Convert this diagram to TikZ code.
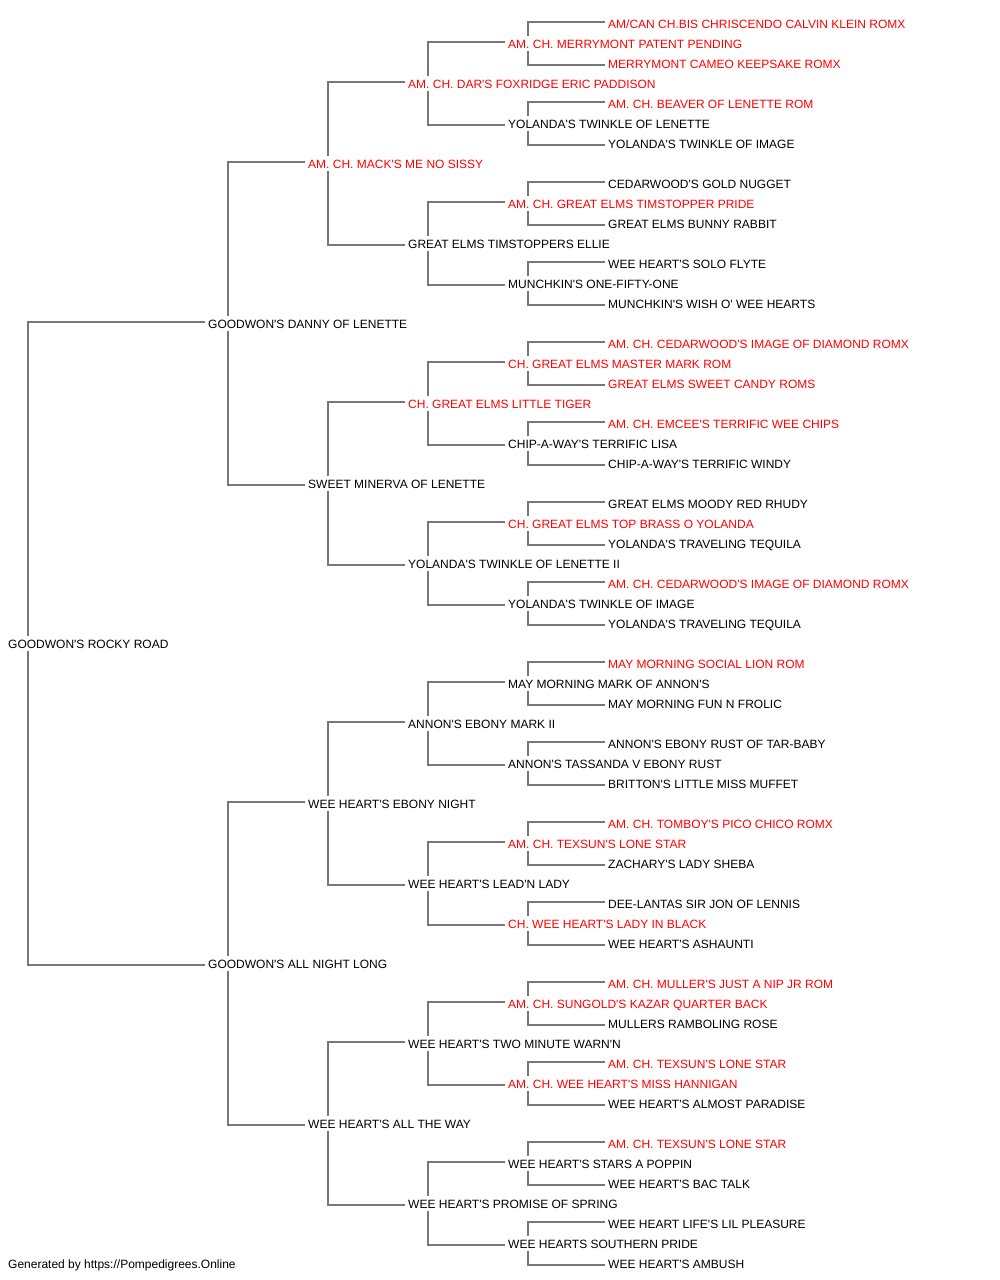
\documentclass[tikz,border=0pt]{standalone}
\usepackage{fontspec}
\setmainfont{Liberation Sans}[Ligatures=TeXOff]
\usetikzlibrary{calc}
\definecolor{linegray}{RGB}{120,120,120}
\definecolor{pred}{RGB}{255,0,0}
\tikzset{
  pn/.style={anchor=west,inner xsep=3pt,inner ysep=0pt,font=\fontsize{12}{14}\selectfont,text height=10.6pt,text depth=0pt},
  conn/.style={draw=linegray,line width=1.3pt}
}
\newcommand\pnode[5]{\node[pn,text=#4] (#1) at (#2,#3) {#5};}
\newcommand\pconn[3]{%
  \draw[conn] ($(#2.west)+(0,-1)$) -| ($(#1.west)+(23,-7)$);
  \draw[conn] ($(#3.west)+(0,2)$) -| ($(#1.west)+(23,8)$);}
\begin{document}
\begin{tikzpicture}[x=1pt,y=-1pt]
\fill[white] (0,0) rectangle (1000,1280);
\useasboundingbox (0,0) rectangle (1000,1280);
% root
\pnode{r}{5}{643}{black}{GOODWON'S ROCKY ROAD}
% level 1
\pnode{a0}{205}{323}{black}{GOODWON'S DANNY OF LENETTE}
\pnode{a1}{205}{963}{black}{GOODWON'S ALL NIGHT LONG}
% level 2
\pnode{b0}{305}{163}{pred}{AM. CH. MACK'S ME NO SISSY}
\pnode{b1}{305}{483}{black}{SWEET MINERVA OF LENETTE}
\pnode{b2}{305}{803}{black}{WEE HEART'S EBONY NIGHT}
\pnode{b3}{305}{1123}{black}{WEE HEART'S ALL THE WAY}
% level 3
\pnode{c0}{405}{83}{pred}{AM. CH. DAR'S FOXRIDGE ERIC PADDISON}
\pnode{c1}{405}{243}{black}{GREAT ELMS TIMSTOPPERS ELLIE}
\pnode{c2}{405}{403}{pred}{CH. GREAT ELMS LITTLE TIGER}
\pnode{c3}{405}{563}{black}{YOLANDA'S TWINKLE OF LENETTE II}
\pnode{c4}{405}{723}{black}{ANNON'S EBONY MARK II}
\pnode{c5}{405}{883}{black}{WEE HEART'S LEAD'N LADY}
\pnode{c6}{405}{1043}{black}{WEE HEART'S TWO MINUTE WARN'N}
\pnode{c7}{405}{1203}{black}{WEE HEART'S PROMISE OF SPRING}
% level 4
\pnode{d0}{505}{43}{pred}{AM. CH. MERRYMONT PATENT PENDING}
\pnode{d1}{505}{123}{black}{YOLANDA'S TWINKLE OF LENETTE}
\pnode{d2}{505}{203}{pred}{AM. CH. GREAT ELMS TIMSTOPPER PRIDE}
\pnode{d3}{505}{283}{black}{MUNCHKIN'S ONE-FIFTY-ONE}
\pnode{d4}{505}{363}{pred}{CH. GREAT ELMS MASTER MARK ROM}
\pnode{d5}{505}{443}{black}{CHIP-A-WAY'S TERRIFIC LISA}
\pnode{d6}{505}{523}{pred}{CH. GREAT ELMS TOP BRASS O YOLANDA}
\pnode{d7}{505}{603}{black}{YOLANDA'S TWINKLE OF IMAGE}
\pnode{d8}{505}{683}{black}{MAY MORNING MARK OF ANNON'S}
\pnode{d9}{505}{763}{black}{ANNON'S TASSANDA V EBONY RUST}
\pnode{d10}{505}{843}{pred}{AM. CH. TEXSUN'S LONE STAR}
\pnode{d11}{505}{923}{pred}{CH. WEE HEART'S LADY IN BLACK}
\pnode{d12}{505}{1003}{pred}{AM. CH. SUNGOLD'S KAZAR QUARTER BACK}
\pnode{d13}{505}{1083}{pred}{AM. CH. WEE HEART'S MISS HANNIGAN}
\pnode{d14}{505}{1163}{black}{WEE HEART'S STARS A POPPIN}
\pnode{d15}{505}{1243}{black}{WEE HEARTS SOUTHERN PRIDE}
% level 5
\pnode{e0}{605}{23}{pred}{AM/CAN CH.BIS CHRISCENDO CALVIN KLEIN ROMX}
\pnode{e1}{605}{63}{pred}{MERRYMONT CAMEO KEEPSAKE ROMX}
\pnode{e2}{605}{103}{pred}{AM. CH. BEAVER OF LENETTE ROM}
\pnode{e3}{605}{143}{black}{YOLANDA'S TWINKLE OF IMAGE}
\pnode{e4}{605}{183}{black}{CEDARWOOD'S GOLD NUGGET}
\pnode{e5}{605}{223}{black}{GREAT ELMS BUNNY RABBIT}
\pnode{e6}{605}{263}{black}{WEE HEART'S SOLO FLYTE}
\pnode{e7}{605}{303}{black}{MUNCHKIN'S WISH O' WEE HEARTS}
\pnode{e8}{605}{343}{pred}{AM. CH. CEDARWOOD'S IMAGE OF DIAMOND ROMX}
\pnode{e9}{605}{383}{pred}{GREAT ELMS SWEET CANDY ROMS}
\pnode{e10}{605}{423}{pred}{AM. CH. EMCEE'S TERRIFIC WEE CHIPS}
\pnode{e11}{605}{463}{black}{CHIP-A-WAY'S TERRIFIC WINDY}
\pnode{e12}{605}{503}{black}{GREAT ELMS MOODY RED RHUDY}
\pnode{e13}{605}{543}{black}{YOLANDA'S TRAVELING TEQUILA}
\pnode{e14}{605}{583}{pred}{AM. CH. CEDARWOOD'S IMAGE OF DIAMOND ROMX}
\pnode{e15}{605}{623}{black}{YOLANDA'S TRAVELING TEQUILA}
\pnode{e16}{605}{663}{pred}{MAY MORNING SOCIAL LION ROM}
\pnode{e17}{605}{703}{black}{MAY MORNING FUN N FROLIC}
\pnode{e18}{605}{743}{black}{ANNON'S EBONY RUST OF TAR-BABY}
\pnode{e19}{605}{783}{black}{BRITTON'S LITTLE MISS MUFFET}
\pnode{e20}{605}{823}{pred}{AM. CH. TOMBOY'S PICO CHICO ROMX}
\pnode{e21}{605}{863}{black}{ZACHARY'S LADY SHEBA}
\pnode{e22}{605}{903}{black}{DEE-LANTAS SIR JON OF LENNIS}
\pnode{e23}{605}{943}{black}{WEE HEART'S ASHAUNTI}
\pnode{e24}{605}{983}{pred}{AM. CH. MULLER'S JUST A NIP JR ROM}
\pnode{e25}{605}{1023}{black}{MULLERS RAMBOLING ROSE}
\pnode{e26}{605}{1063}{pred}{AM. CH. TEXSUN'S LONE STAR}
\pnode{e27}{605}{1103}{black}{WEE HEART'S ALMOST PARADISE}
\pnode{e28}{605}{1143}{pred}{AM. CH. TEXSUN'S LONE STAR}
\pnode{e29}{605}{1183}{black}{WEE HEART'S BAC TALK}
\pnode{e30}{605}{1223}{black}{WEE HEART LIFE'S LIL PLEASURE}
\pnode{e31}{605}{1263}{black}{WEE HEART'S AMBUSH}
% footer
\pnode{foot}{5}{1263}{black}{Generated by https://Pompedigrees.Online}
% connectors
\pconn{r}{a0}{a1}
\pconn{a0}{b0}{b1}
\pconn{a1}{b2}{b3}
\pconn{b0}{c0}{c1}
\pconn{b1}{c2}{c3}
\pconn{b2}{c4}{c5}
\pconn{b3}{c6}{c7}
\pconn{c0}{d0}{d1}
\pconn{c1}{d2}{d3}
\pconn{c2}{d4}{d5}
\pconn{c3}{d6}{d7}
\pconn{c4}{d8}{d9}
\pconn{c5}{d10}{d11}
\pconn{c6}{d12}{d13}
\pconn{c7}{d14}{d15}
\pconn{d0}{e0}{e1}
\pconn{d1}{e2}{e3}
\pconn{d2}{e4}{e5}
\pconn{d3}{e6}{e7}
\pconn{d4}{e8}{e9}
\pconn{d5}{e10}{e11}
\pconn{d6}{e12}{e13}
\pconn{d7}{e14}{e15}
\pconn{d8}{e16}{e17}
\pconn{d9}{e18}{e19}
\pconn{d10}{e20}{e21}
\pconn{d11}{e22}{e23}
\pconn{d12}{e24}{e25}
\pconn{d13}{e26}{e27}
\pconn{d14}{e28}{e29}
\pconn{d15}{e30}{e31}
\end{tikzpicture}
\end{document}
